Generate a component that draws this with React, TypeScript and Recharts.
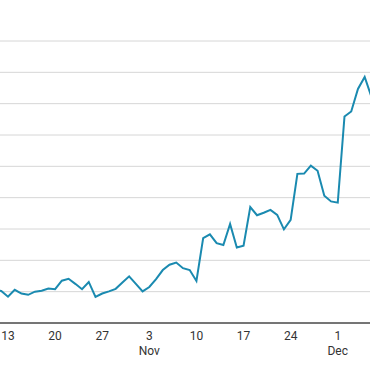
import React from "react";
import { LineChart, Line, XAxis, YAxis, CartesianGrid } from "recharts";

// Day index: 0 = Oct 13
const days: number[] = [
  -2, -1, 0, 1, 2, 3, 4, 5, 6, 7, 8, 9, 10, 11, 12, 13, 14, 15, 16, 17, 18, 19,
  20, 21, 22, 23, 24, 25, 26, 27, 28, 29, 30, 31, 32, 33, 34, 35, 36, 37, 38,
  39, 40, 41, 42, 43, 44, 45, 46, 47, 48, 49, 50, 51, 52, 53, 54,
];
const values: number[] = [
  1.05, 1.02, 0.84, 1.06, 0.94, 0.9, 1.0, 1.03, 1.1, 1.08, 1.35, 1.41, 1.25,
  1.08, 1.31, 0.83, 0.94, 1.01, 1.09, 1.29, 1.49, 1.25, 1.01, 1.15, 1.4, 1.69,
  1.86, 1.93, 1.75, 1.69, 1.34, 2.71, 2.83, 2.55, 2.49, 3.16, 2.41, 2.47, 3.7,
  3.44, 3.52, 3.61, 3.45, 2.99, 3.29, 4.76, 4.77, 5.02, 4.86, 4.06, 3.88, 3.84,
  6.59, 6.75, 7.47, 7.85, 7.22,
];
const tickDays: number[] = [0, 7, 14, 21, 28, 35, 42, 49];
const tickDayLabels: string[] = ["13", "20", "27", "3", "10", "17", "24", "1"];
const tickMonthLabels: string[] = ["", "", "", "Nov", "", "", "", "Dec"];
const yTicks: number[] = [0, 1, 2, 3, 4, 5, 6, 7, 8, 9];

const data = days.map((d, i) => ({ d, v: values[i] }));

const Tick = (props: any) => {
  const { x, y, payload } = props;
  const idx = tickDays.indexOf(payload.value);
  return (
    <text
      x={x}
      y={y}
      textAnchor="middle"
      fill="#333"
      fontSize={12}
      fontFamily="Roboto, sans-serif"
    >
      <tspan x={x} dy={17}>
        {tickDayLabels[idx]}
      </tspan>
      {tickMonthLabels[idx] ? (
        <tspan x={x} dy={15}>
          {tickMonthLabels[idx]}
        </tspan>
      ) : null}
    </text>
  );
};

export default function App() {
  return (
    <div
      style={{
        position: "absolute",
        left: 0,
        top: 0,
        width: 370,
        height: 380,
        overflow: "hidden",
        background: "#fff",
      }}
    >
      <LineChart
        width={370}
        height={380}
        data={data}
        margin={{ top: 41, right: 0, bottom: 0, left: 0 }}
      >
        <CartesianGrid vertical={false} stroke="#d6d6d6" />
        <XAxis
          dataKey="d"
          type="number"
          domain={[-1.189, 53.79]}
          allowDataOverflow
          ticks={tickDays}
          interval={0}
          tick={<Tick />}
          tickLine={false}
          tickSize={0}
          tickMargin={0}
          height={57}
          axisLine={{ stroke: "#000", strokeWidth: 1 }}
        />
        <YAxis hide domain={[0, 9]} ticks={yTicks} />
        <Line
          dataKey="v"
          stroke="#1a8ab0"
          strokeWidth={2}
          dot={false}
          isAnimationActive={false}
        />
      </LineChart>
    </div>
  );
}
